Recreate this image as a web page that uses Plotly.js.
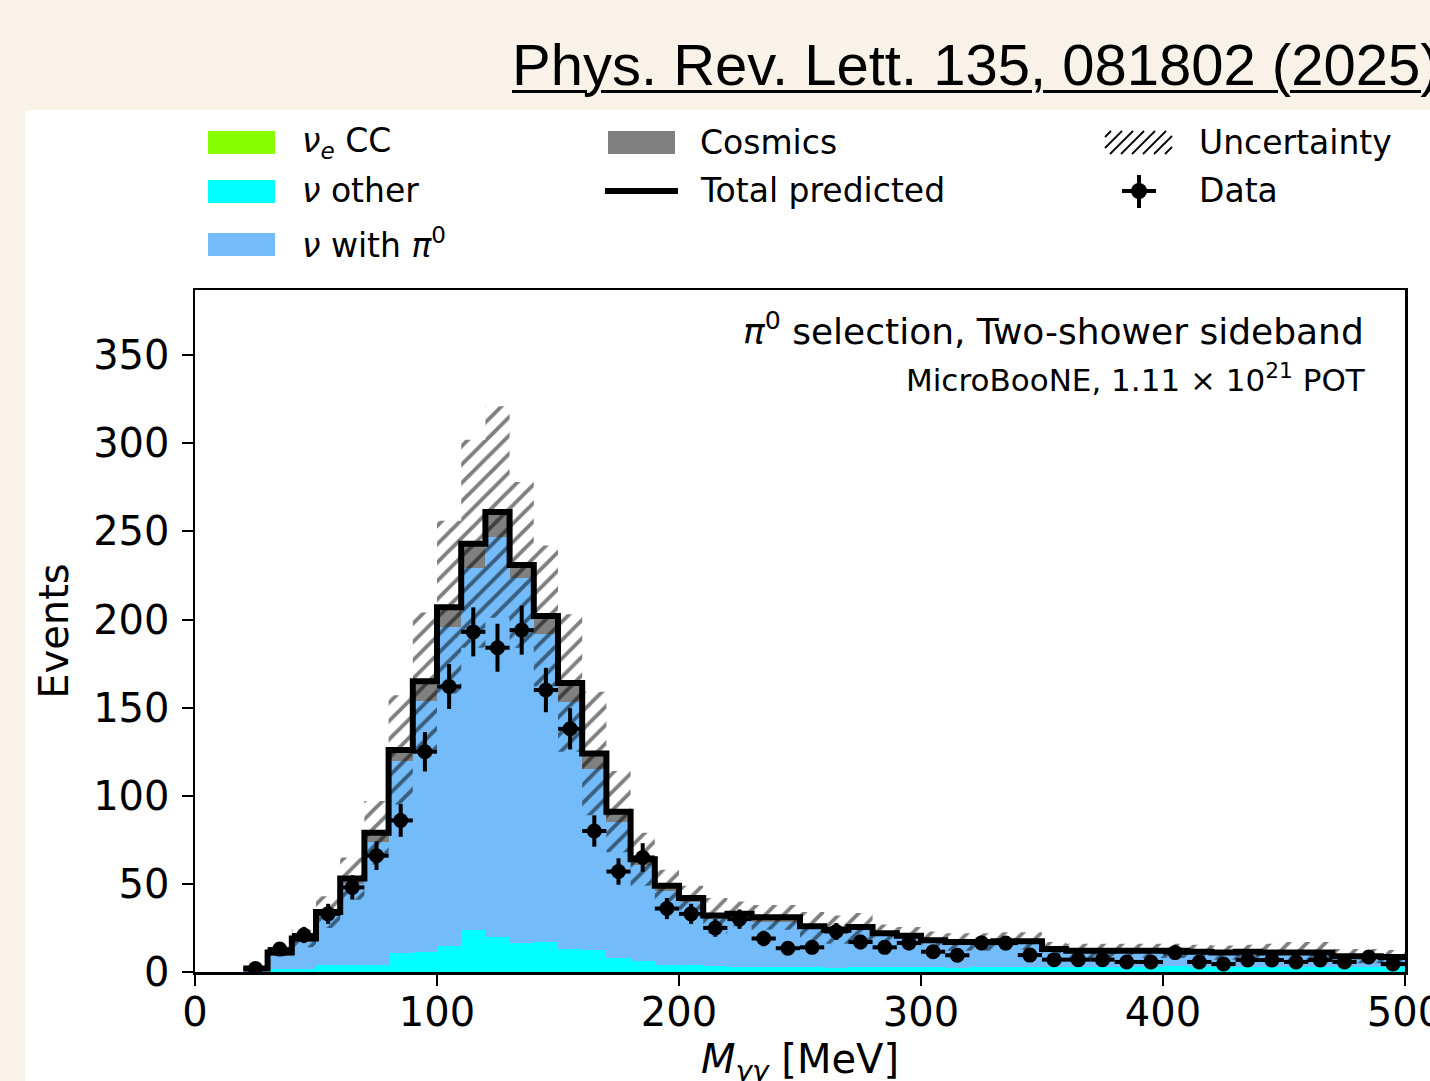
<!DOCTYPE html>
<html>
<head>
<meta charset="utf-8">
<script src="https://cdn.plot.ly/plotly-3.0.1.min.js"></script>
<style>
  html, body { margin:0; padding:0; width:1430px; height:1081px; overflow:hidden; background:#f9f2e8; }
  #panel { position:absolute; left:25px; top:110px; width:1405px; height:971px; background:#ffffff; }
  #ref { position:absolute; left:512px; top:36px; font-family:"Liberation Sans", Arial, sans-serif; font-size:58px; line-height:58px; color:#000; white-space:nowrap; text-decoration:underline; text-decoration-thickness:3px; text-underline-offset:5px; }
  #chart { position:absolute; left:0; top:0; width:1430px; height:1081px; }
</style>
</head>
<body>
<div id="panel"></div>
<div id="ref">Phys. Rev. Lett. 135, 081802 (2025)</div>
<div id="chart"></div>
<script>
// ---------------- data ----------------
const binLow = [20,30,40,50,60,70,80,90,100,110,120,130,140,150,160,170,180,190,200,210,220,230,240,250,260,270,280,290,300,310,320,330,340,350,360,370,380,390,400,410,420,430,440,450,460,470,480,490];
const binWidth = 10;
// nu other (cyan)
const nuOther = [0.2,1.5,1.5,4,4,4,10.7,11.5,15,24,20,16.6,17,13,12.7,8,6,4,4,3.5,3,3,3,3,2.5,3,3,3,3,2.5,3,3,3,3,3,3,3,3,3.5,3,3,3,3,3,3,3,3,3];
// nu with pi0 (blue)
const nuPi0 = [1.5,7.5,15.5,28,46,70,109.3,142.5,181,205,227,206.9,175,140,102.3,77,55,42,36,26.5,28,25.5,25.5,21.5,20.5,21.5,18,16.5,14,13.5,13,13.5,13.5,9,8.5,8.5,8.5,8.5,8,8,7.5,8,7.5,7.5,7.5,5.5,5.5,5];
// nu_e CC (green, negligible)
const nueCC = [0,0,0,0,0,0,0,0,0,0,0,0,0,0,0,0,0,0,0,0,0,0,0,0,0,0,0,0,0,0,0,0,0,0,0,0,0,0,0,0,0,0,0,0,0,0,0,0];
// cosmics (grey)
const cosmics = [0.3,2,2,2,3,5,6,11,11,14,14,7.5,10,11,9,6,3,3,2,2,2,2.5,2.5,1.5,1,1,1,1,1,1,1,1,1,1,0.5,0.5,0.5,0.5,0.5,0.5,0.5,0.5,0.5,0.5,0.5,0.5,0.5,0.5];
// total prediction uncertainty (half width of hatched band)
const uncertainty = [1,2,5,9,12,18,31,39,49,59,60,47,40,39,35,23,15,9,7,10,7,7,7,8,8,8,5,5,5,5,5,5,5,4,4,4,4,4,4,4,4,4,5,6,6,4,4,4];
// data
const dataVals = [2,13,21,33,48,66,86,125,162,193,184,194,160,138,80,57,65,36,33,25,30,19,13.5,14,23,17,14,16.5,11.5,9.5,16.5,16.4,9.6,7,7,7,5.7,5.7,11,5.7,4.5,6.8,6.8,5.7,6.8,5.7,8.5,4.5];
const dataErr = [1.4,3.6,4.6,5.7,6.9,8.1,9.3,11.2,12.7,13.9,13.6,13.9,12.6,11.7,8.9,7.5,8.1,6,5.7,5,5.5,4.4,3.7,3.7,4.8,4.1,3.7,4.1,3.4,3.1,4.1,4,3.1,2.6,2.6,2.6,2.4,2.4,3.3,2.4,2.1,2.6,2.6,2.4,2.6,2.4,2.9,2.1];
const xTicks = [0,100,200,300,400,500];
const yTicks = [0,50,100,150,200,250,300,350];

// ---------------- derived tables ----------------
const centers = binLow.map(v => v + binWidth/2);
const edges = binLow.concat([binLow[binLow.length-1] + binWidth]);
const total = binLow.map((_, i) => nuOther[i] + nuPi0[i] + nueCC[i] + cosmics[i]);
const totalStep = total.concat([total[total.length-1]]);
const bandX = [], bandY = [];
for (let i = 0; i < binLow.length; i++) { bandX.push(binLow[i], binLow[i]+binWidth); bandY.push(total[i]+uncertainty[i], total[i]+uncertainty[i]); }
for (let i = binLow.length-1; i >= 0; i--) { bandX.push(binLow[i]+binWidth, binLow[i]); bandY.push(total[i]-uncertainty[i], total[i]-uncertainty[i]); }
bandX.push(bandX[0]); bandY.push(bandY[0]);

const C_GREEN = '#88ff00', C_CYAN = '#00ffff', C_BLUE = '#73bbf9', C_GREY = '#808080';

function bar(y, color, name) {
  return { type:'bar', x:centers, y:y, width:binWidth, name:name, showlegend:false,
           marker:{color:color, line:{width:0}}, hoverinfo:'skip' };
}
const traces = [
  bar(nuOther, C_CYAN, 'ν other'),
  bar(nuPi0, C_BLUE, 'ν with π0'),
  bar(nueCC, C_GREEN, 'νe CC'),
  bar(cosmics, C_GREY, 'Cosmics'),
  { type:'scatter', mode:'lines', x:bandX, y:bandY, fill:'toself', fillcolor:'rgba(0,0,0,0)',
    fillpattern:{shape:'/', fgcolor:'#000000', bgcolor:'rgba(0,0,0,0)', size:13, solidity:0.3, fillmode:'overlay'},
    line:{width:0}, showlegend:false, name:'Uncertainty', hoverinfo:'skip' },
  { type:'scatter', mode:'lines', x:edges, y:totalStep, line:{shape:'hv', color:'#000000', width:6},
    showlegend:false, name:'Total predicted' },
  { type:'scatter', mode:'markers', x:centers, y:dataVals, name:'Data', showlegend:false,
    marker:{color:'#000000', size:15, symbol:'circle'},
    error_y:{type:'data', array:dataErr, visible:true, color:'#000000', thickness:4, width:0},
    error_x:{type:'constant', value:binWidth/2, visible:true, color:'#000000', thickness:4, width:0} }
];

// ---------------- layout ----------------
const L = 195, R = 1405, T = 290, B = 972;
const PX = px => (px - L) / (R - L);
const PY = py => (B - py) / (B - T);
const FONT = 'DejaVu Sans, sans-serif';

const shapes = [], annotations = [];
function patch(x0, y0, x1, y1, color) {
  shapes.push({type:'rect', xref:'paper', yref:'paper', x0:PX(x0), x1:PX(x1), y0:PY(y1), y1:PY(y0),
               fillcolor:color, line:{width:0}});
}
function label(x, y, text, size) {
  annotations.push({xref:'paper', yref:'paper', x:PX(x), y:PY(y), xanchor:'left', yanchor:'middle',
                    text:text, showarrow:false, font:{family:FONT, size:size||33, color:'#000'}});
}
patch(208, 131, 275, 154, C_GREEN);  label(300, 143, '<i>ν</i><sub><i>e</i></sub> CC');
patch(208, 180, 275, 203, C_CYAN);   label(300, 191, '<i>ν</i> other');
patch(208, 233, 275, 256, C_BLUE);   label(300, 243, '<i>ν</i> with <i>π</i><sup>0</sup>');
patch(608, 131, 675, 154, C_GREY);   label(698, 143, 'Cosmics');
shapes.push({type:'line', xref:'paper', yref:'paper', x0:PX(605), x1:PX(678), y0:PY(191), y1:PY(191), line:{color:'#000', width:6}});
label(698, 191, 'Total predicted');
// hatch legend patch
(function(){
  const x0 = 1105, x1 = 1172, y0 = 131, y1 = 154, h = y1 - y0;
  for (let s = x0 - h + 6; s < x1; s += 11) {
    let ax = s, ay = y1, bx = s + h, by = y0;
    if (ax < x0) { ay = y1 - (x0 - ax); ax = x0; }
    if (bx > x1) { by = y0 + (bx - x1); bx = x1; }
    if (bx - ax < 2) continue;
    shapes.push({type:'line', xref:'paper', yref:'paper', x0:PX(ax), y0:PY(ay), x1:PX(bx), y1:PY(by), line:{color:'#000', width:1.8}});
  }
})();
label(1197, 143, 'Uncertainty');
shapes.push({type:'line', xref:'paper', yref:'paper', x0:PX(1139), x1:PX(1139), y0:PY(175), y1:PY(208), line:{color:'#000', width:4}});
shapes.push({type:'line', xref:'paper', yref:'paper', x0:PX(1122), x1:PX(1156), y0:PY(191), y1:PY(191), line:{color:'#000', width:4}});
shapes.push({type:'circle', xref:'paper', yref:'paper', x0:PX(1131), x1:PX(1147), y0:PY(199), y1:PY(183), fillcolor:'#000', line:{width:0}});
label(1197, 191, 'Data');

annotations.push({xref:'paper', yref:'paper', x:PX(1366), y:PY(329), xanchor:'right', yanchor:'middle', showarrow:false,
  text:'<i>π</i><sup>0</sup> selection, Two-shower sideband', font:{family:FONT, size:36, color:'#000'}});
annotations.push({xref:'paper', yref:'paper', x:PX(1368), y:PY(378), xanchor:'right', yanchor:'middle', showarrow:false,
  text:'MicroBooNE, 1.11 × 10<sup>21</sup> POT', font:{family:FONT, size:31, color:'#000'}});
// x-axis title, placed where the reference draws it
annotations.push({xref:'paper', yref:'paper', x:PX(800), y:PY(1062), xanchor:'center', yanchor:'middle', showarrow:false,
  text:'<i>M</i><sub><i>γγ</i></sub> [MeV]', font:{family:FONT, size:40, color:'#000'}});

const axisCommon = {showline:true, linecolor:'#000', linewidth:2.5, mirror:true, ticks:'outside', ticklen:11,
  tickwidth:2, tickcolor:'#000', showgrid:false, zeroline:false, ticklabeloverflow:'allow',
  tickfont:{family:FONT, size:40, color:'#000'}};

const layout = {
  width:1430, height:1081,
  margin:{l:L, r:1430-R, t:T, b:1081-B, pad:0},
  paper_bgcolor:'rgba(0,0,0,0)', plot_bgcolor:'#ffffff',
  barmode:'stack', bargap:0, showlegend:false,
  font:{family:FONT, color:'#000'},
  xaxis:Object.assign({}, axisCommon, {range:[0,500], tickvals:xTicks, ticktext:xTicks.map(String), ticklabelstandoff:-8}),
  yaxis:Object.assign({}, axisCommon, {range:[0,387], tickvals:yTicks, ticktext:yTicks.map(String), ticklabelstandoff:4,
    title:{text:'Events', font:{family:FONT, size:40, color:'#000'}, standoff:12}}),
  shapes:shapes, annotations:annotations
};

Plotly.newPlot('chart', traces, layout, {displayModeBar:false, staticPlot:true});
</script>
</body>
</html>
